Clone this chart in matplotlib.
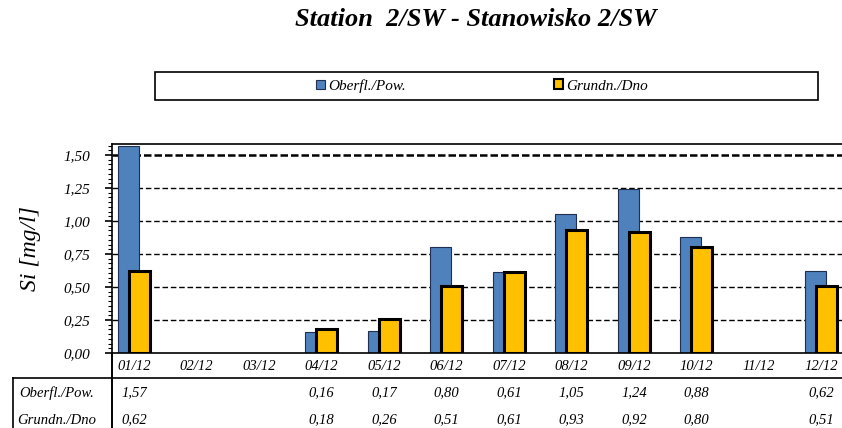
import numpy as np
import matplotlib

matplotlib.use("Agg")
import matplotlib.pyplot as plt
from matplotlib.lines import Line2D
from matplotlib.patches import Patch, Rectangle
from matplotlib.ticker import MultipleLocator, AutoMinorLocator, FuncFormatter
from matplotlib.transforms import blended_transform_factory

# Data
months = ["01/12", "02/12", "03/12", "04/12", "05/12", "06/12",
          "07/12", "08/12", "09/12", "10/12", "11/12", "12/12"]
surface = [1.57, np.nan, np.nan, 0.16, 0.17, 0.80, 0.61, 1.05, 1.24, 0.88, np.nan, 0.62]
bottom = [0.62, np.nan, np.nan, 0.18, 0.26, 0.51, 0.61, 0.93, 0.92, 0.80, np.nan, 0.51]
series_names = ["Oberfl./Pow.", "Grundn./Dno"]

BLUE = "#4F81BD"
YELLOW = "#FFC000"
SERIF = "Liberation Serif"

plt.rcParams["font.family"] = SERIF


def fmt_comma(value):
    return f"{value:.2f}".replace(".", ",")


fig = plt.figure(figsize=(8.42, 4.28), dpi=100)
ax = fig.add_axes([112 / 842, 1 - 353 / 428, 730 / 842, 209 / 428])

x = np.arange(len(months))
ax.bar(x - 0.09, surface, width=0.34, color=BLUE, edgecolor="#1F2F4F",
       linewidth=0.8, zorder=2)
ax.bar(x + 0.085, bottom, width=0.34, color=YELLOW, edgecolor="black",
       linewidth=2.2, zorder=3)

ax.set_xlim(-0.35, 11.33)
ax.set_ylim(0, 1.583)

# Horizontal dashed grid lines (top one heavier)
for level in np.arange(0.25, 1.51, 0.25):
    if level > 1.4:
        ax.axhline(level, color="black", linewidth=1.8,
                   linestyle=(0, (3, 1.2)), zorder=1)
    else:
        ax.axhline(level, color="black", linewidth=1.0,
                   linestyle=(0, (4, 2)), zorder=1)

ax.yaxis.set_major_locator(MultipleLocator(0.25))
ax.yaxis.set_minor_locator(AutoMinorLocator(7))
ax.yaxis.set_major_formatter(FuncFormatter(lambda v, pos: fmt_comma(v)))
ax.tick_params(axis="y", which="major", direction="out", length=5, width=1.2,
               labelsize=11, pad=11)
ax.tick_params(axis="y", which="minor", direction="out", length=3, width=0.8)
for label in ax.get_yticklabels():
    label.set_fontstyle("italic")

ax.set_xticks(x)
ax.set_xticklabels(months, fontsize=10.5, fontstyle="italic")
ax.tick_params(axis="x", length=0, pad=5)

ax.spines["right"].set_visible(False)
for side in ["left", "bottom", "top"]:
    ax.spines[side].set_linewidth(1.2)

ax.set_ylabel("Si [mg/l]", fontsize=17, fontstyle="italic", labelpad=16)

# Data table below the axis
fig.add_artist(Line2D([13 / 842, 1], [1 - 378 / 428] * 2, color="black",
                      linewidth=1.2, transform=fig.transFigure))
fig.add_artist(Line2D([13 / 842] * 2, [0, 1 - 378 / 428], color="black",
                      linewidth=1.2, transform=fig.transFigure))
fig.add_artist(Line2D([112 / 842] * 2, [0, 1 - 353 / 428], color="black",
                      linewidth=1.4, transform=fig.transFigure))

row_y = [1 - 393 / 428, 1 - 420 / 428]
trans = blended_transform_factory(ax.transData, fig.transFigure)
for name, values, yy in zip(series_names, [surface, bottom], row_y):
    fig.text(57 / 842, yy, name, ha="center", va="center", fontsize=10.5,
             fontstyle="italic")
    for xi, v in zip(x, values):
        if not np.isnan(v):
            ax.text(xi, yy, fmt_comma(v), ha="center", va="center", fontsize=10.5,
                    fontstyle="italic", transform=trans, clip_on=False)

# Title
fig.text(476 / 842, 1 - 20 / 428, "Station  2/SW - Stanowisko 2/SW",
         ha="center", va="center", fontsize=19, fontweight="bold",
         fontstyle="italic")

# Legend in a wide framed box
fig.add_artist(Rectangle((155 / 842, 1 - 100 / 428), 663 / 842, 28 / 428,
                         transform=fig.transFigure, fill=False,
                         edgecolor="black", linewidth=1.2))
handles = [Patch(facecolor=BLUE, edgecolor="#1F2F4F", linewidth=0.8),
           Patch(facecolor=YELLOW, edgecolor="black", linewidth=1.5)]
for handle, name, x_left in zip(handles, series_names, [316 / 842, 554 / 842]):
    leg = fig.legend([handle], [name], loc="center left",
                     bbox_to_anchor=(x_left, 1 - 86 / 428), frameon=False,
                     prop={"family": SERIF, "style": "italic", "size": 11},
                     handlelength=0.6, handleheight=0.6, handletextpad=0.2,
                     borderpad=0, borderaxespad=0)

fig.savefig("out.png", dpi=100)
plt.close(fig)
